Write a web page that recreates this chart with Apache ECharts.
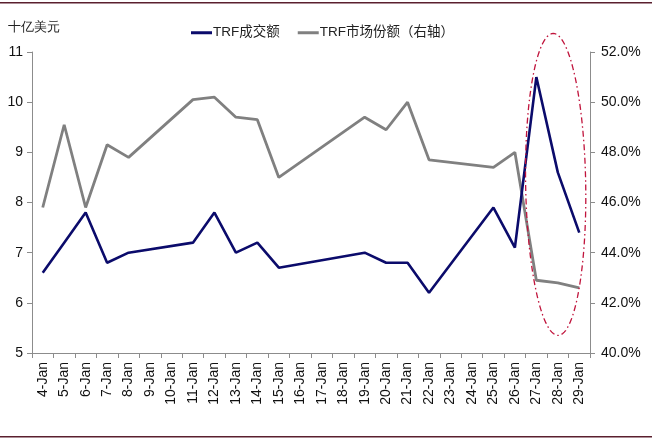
<!DOCTYPE html>
<html><head><meta charset="utf-8">
<script src="https://cdn.jsdelivr.net/npm/echarts@6/dist/echarts.min.js"></script>
<style>html,body{margin:0;padding:0;background:#fff}#c{width:652px;height:438px}</style>
</head><body><div id="c"></div>
<script>
var categories = ['4-Jan','5-Jan','6-Jan','7-Jan','8-Jan','9-Jan','10-Jan','11-Jan','12-Jan','13-Jan','14-Jan','15-Jan','16-Jan','17-Jan','18-Jan','19-Jan','20-Jan','21-Jan','22-Jan','23-Jan','24-Jan','25-Jan','26-Jan','27-Jan','28-Jan','29-Jan'];
var trfVolume = [6.6,7.2,7.8,6.8,7.0,null,null,7.2,7.8,7.0,7.2,6.7,null,null,null,7.0,6.8,6.8,6.2,null,null,7.9,7.1,10.5,8.6,7.4];
var trfShare = [45.8,49.1,45.8,48.3,47.8,null,null,50.1,50.2,49.4,49.3,47.0,null,null,null,49.4,48.9,50.0,47.7,null,null,47.4,48.0,42.9,42.8,42.6];
var leftTicks = {min:5, max:11, interval:1};
var rightTicks = {min:40, max:52, interval:2};
var unitLabel = '十亿美元';
var names = ['TRF成交额','TRF市场份额（右轴）'];

var chart = echarts.init(document.getElementById('c'));
var axisCol = '#8c8c8c';
var font = 'Liberation Sans, Arial, sans-serif';
chart.setOption({
  animation:false,
  textStyle:{fontFamily:font},
  grid:{left:32,right:62,top:52,bottom:85},
  legend:{
    left:186, top:21, itemGap:18, itemWidth:21, itemHeight:3, icon:'rect',
    textStyle:{fontSize:13.5,color:'#222',fontFamily:'Liberation Sans, "Noto Sans CJK SC", sans-serif', padding:[0,0,0,-4]},
    data:names
  },
  xAxis:{
    type:'category', data:categories, boundaryGap:true,
    axisLine:{lineStyle:{color:axisCol,width:1}},
    axisTick:{show:true, alignWithLabel:false, length:5, lineStyle:{color:axisCol}},
    axisLabel:{rotate:90, interval:0, fontSize:14, color:'#111', margin:9}
  },
  yAxis:[{
    type:'value', min:leftTicks.min, max:leftTicks.max, interval:leftTicks.interval,
    splitLine:{show:false},
    axisLine:{show:true, lineStyle:{color:axisCol}},
    axisTick:{show:true, length:5, lineStyle:{color:axisCol}},
    axisLabel:{fontSize:14, color:'#111', margin:9}
  },{
    type:'value', min:rightTicks.min, max:rightTicks.max, interval:rightTicks.interval,
    position:'right', splitLine:{show:false},
    axisLine:{show:true, lineStyle:{color:axisCol}},
    axisTick:{show:true, length:5, lineStyle:{color:axisCol}},
    axisLabel:{fontSize:14, color:'#111', margin:11, formatter:function(v){return v.toFixed(1)+'%';}}
  }],
  series:[{
    name:names[0], type:'line', data:trfVolume, yAxisIndex:0, connectNulls:true,
    symbol:'none', lineStyle:{color:'#0b0b6b', width:2.6}, itemStyle:{color:'#0b0b6b'}, z:3
  },{
    name:names[1], type:'line', data:trfShare, yAxisIndex:1, connectNulls:true,
    symbol:'none', lineStyle:{color:'#808080', width:2.8}, itemStyle:{color:'#808080'}, z:2
  }]
});

// annotation ellipse around the last days
var c1 = chart.convertToPixel({xAxisIndex:0, yAxisIndex:0}, ['28-Jan', 8.36]);
var c0 = chart.convertToPixel({xAxisIndex:0, yAxisIndex:0}, ['27-Jan', 8.36]);
var cw = c1[0]-c0[0];
var cx = c1[0]-0.1*cw, cy = c1[1];
var rx = 1.4*cw, ry = 151;
var pts = [];
for (var i=0;i<=120;i++){
  var t = i/120*Math.PI*2;
  var px = rx*Math.cos(t), py = ry*Math.sin(t);
  pts.push([cx + px + py*0.016, cy + py]);
}
var W = chart.getWidth(), H = chart.getHeight();
chart.setOption({graphic:[
  {type:'polyline', shape:{points:pts}, style:{stroke:'#c0143c', lineWidth:1.3, fill:null, lineDash:[6,3,1.5,3]}, z:10},
  {type:'text', left:8, top:21, style:{text:unitLabel, fontSize:13, fill:'#222', font:'13.5px "Noto Sans CJK SC", sans-serif'}},
  {type:'rect', shape:{x:0,y:2,width:W,height:1.5}, style:{fill:'#5a1f2e'}},
  {type:'rect', shape:{x:0,y:H-2,width:W,height:1.5}, style:{fill:'#5a1f2e'}}
]});
</script></body></html>
